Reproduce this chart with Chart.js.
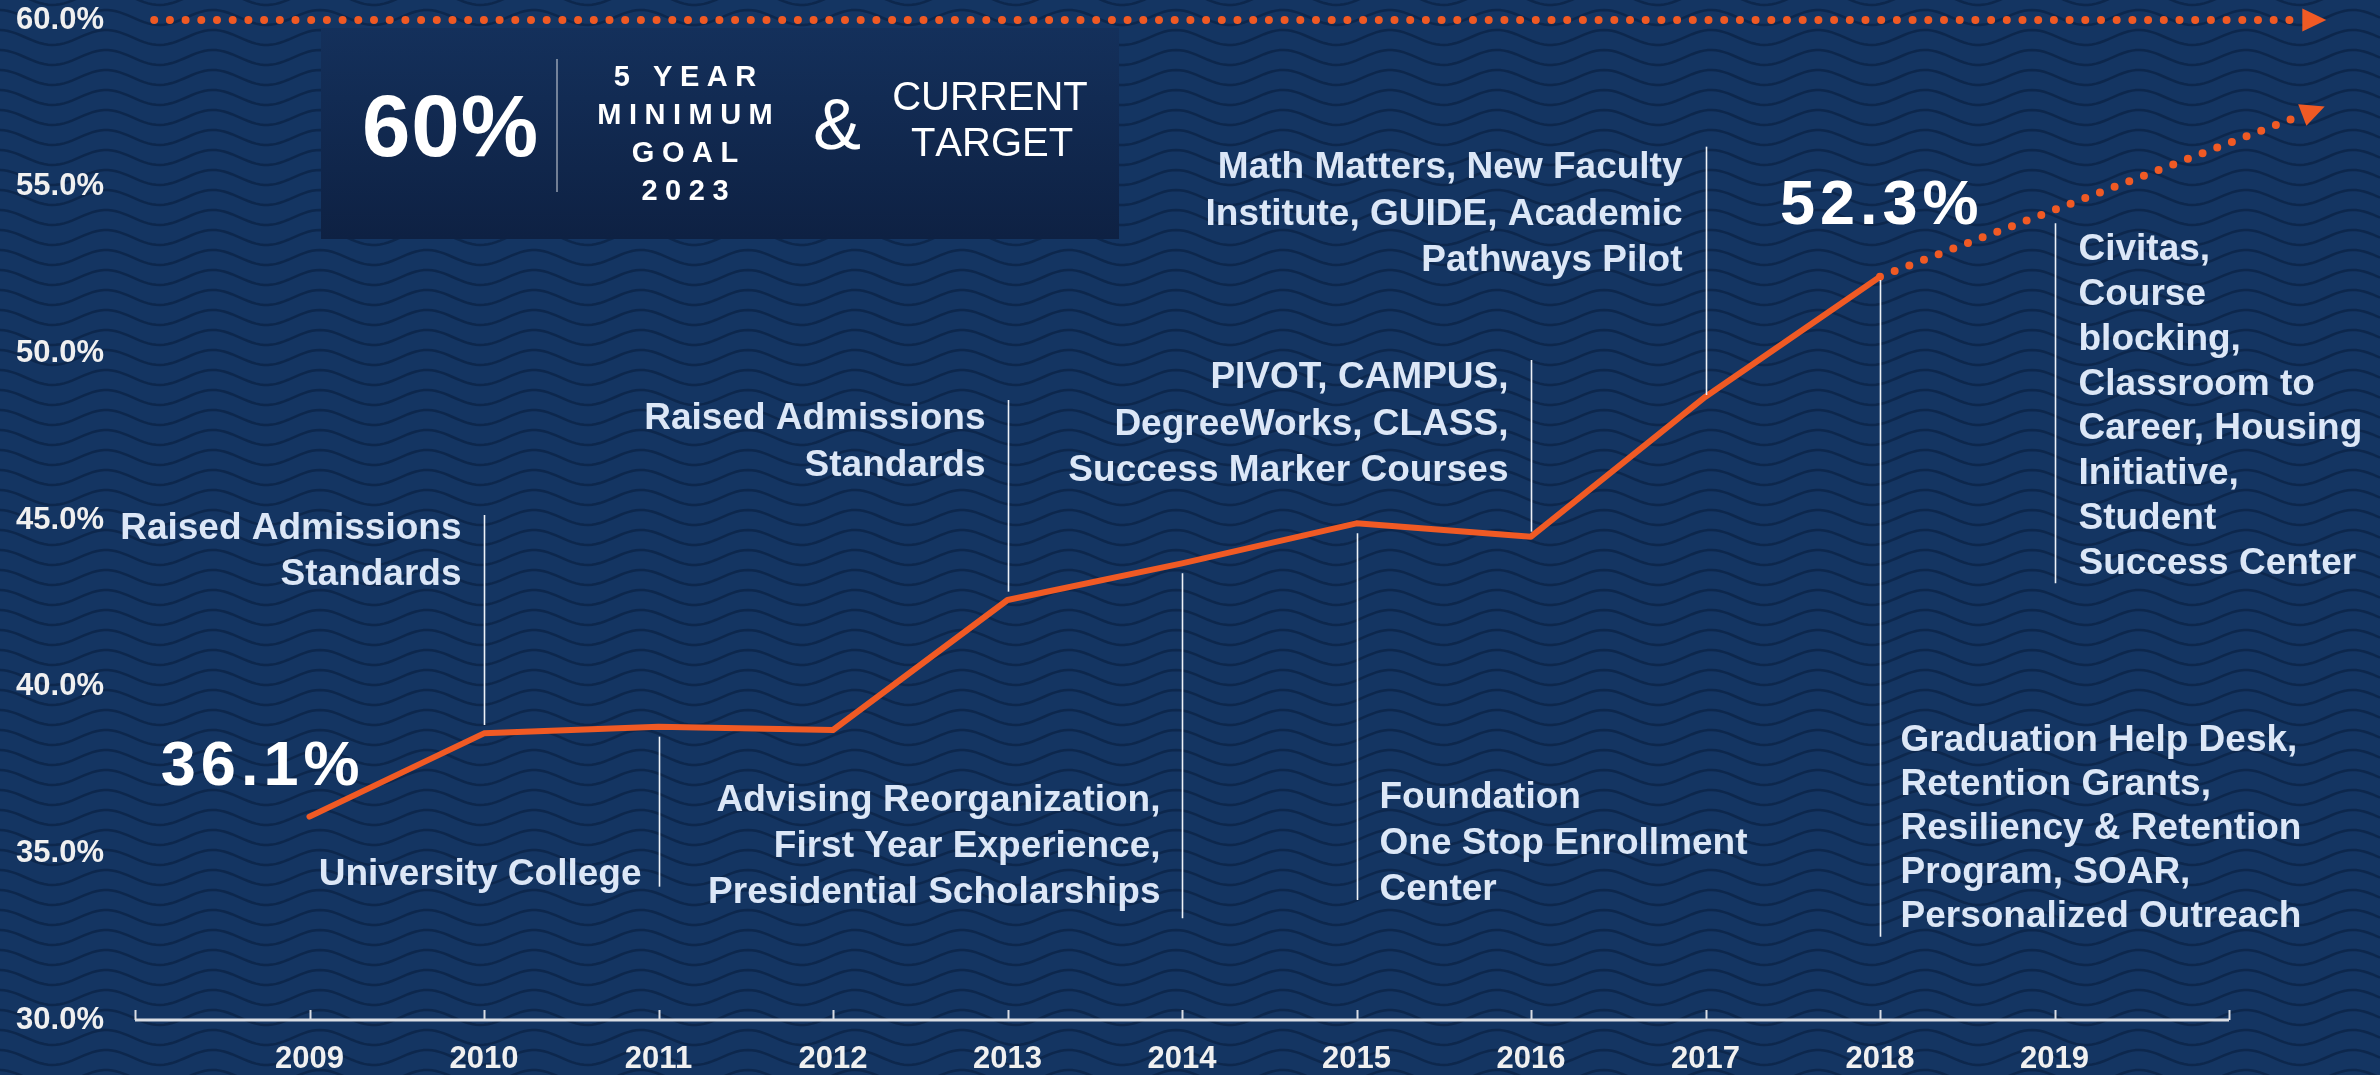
<!DOCTYPE html>
<html>
<head>
<meta charset="utf-8">
<title>Graduation rate</title>
<script src="https://cdn.jsdelivr.net/npm/chart.js@4"></script>
<style>
  html, body { margin: 0; padding: 0; background: #143562; }
  canvas { display: block; }
</style>
</head>
<body>
<canvas id="rate-chart" width="2380" height="1075"></canvas>
<script>
const years = [2009, 2010, 2011, 2012, 2013, 2014, 2015, 2016, 2017, 2018];
const rates = [36.1, 38.6, 38.8, 38.7, 42.6, 43.7, 44.9, 44.5, 48.7, 52.3];
const projectionYears = [2018, 2020.42];
const projectionRates = [52.3, 57.15];
const goalYears = [2008.11, 2020.42];
const goalRates = [60, 60];
const yearTicks = [2009, 2010, 2011, 2012, 2013, 2014, 2015, 2016, 2017, 2018, 2019];
const rateTicks = [30, 35, 40, 45, 50, 55, 60];

const noteYears = [2010, 2011, 2013, 2014, 2015, 2016, 2017, 2018, 2019];
const noteTops = [45.15, 38.5, 48.6, 43.4, 44.6, 49.8, 56.2, 52.2, 53.9];
const noteBottoms = [38.85, 34.0, 42.85, 33.05, 33.6, 44.65, 48.75, 32.5, 43.1];
const noteTexts = [
    ['Raised Admissions', 'Standards'],
    ['University College'],
    ['Raised Admissions', 'Standards'],
    ['Advising Reorganization,', 'First Year Experience,', 'Presidential Scholarships'],
    ['Foundation', 'One Stop Enrollment', 'Center'],
    ['PIVOT, CAMPUS,', 'DegreeWorks, CLASS,', 'Success Marker Courses'],
    ['Math Matters, New Faculty', 'Institute, GUIDE, Academic', 'Pathways Pilot'],
    ['Graduation Help Desk,', 'Retention Grants,', 'Resiliency & Retention', 'Program, SOAR,', 'Personalized Outreach'],
    ['Civitas,', 'Course', 'blocking,', 'Classroom to', 'Career, Housing', 'Initiative,', 'Student', 'Success Center']
];

const FONT = "'Liberation Sans', Arial, sans-serif";
const ORANGE = '#f05a24';

// where each note's text sits: side of its line, first line height on the rate axis, leading
const noteLayout = [
    { side: 'left', at: 44.82, gap: 23, leading: 46 },
    { side: 'left', at: 34.45, gap: 18, leading: 46 },
    { side: 'left', at: 48.12, gap: 23, leading: 46.5 },
    { side: 'left', at: 36.66, gap: 22, leading: 46 },
    { side: 'right', at: 36.75, gap: 22, leading: 46 },
    { side: 'left', at: 49.35, gap: 23, leading: 46.5 },
    { side: 'left', at: 55.65, gap: 24, leading: 46.5 },
    { side: 'right', at: 38.46, gap: 20, leading: 44 },
    { side: 'right', at: 53.19, gap: 23, leading: 44.8 }
];


function spacedText(ctx, str, x, y, spacing, align) {
    const chars = [...str];
    const widths = chars.map(c => ctx.measureText(c).width);
    const total = widths.reduce((a, b) => a + b, 0) + spacing * (chars.length - 1);
    let cx = align === 'center' ? x - total / 2 : (align === 'right' ? x - total : x);
    ctx.textAlign = 'left';
    chars.forEach((c, i) => {
        ctx.fillText(c, cx, y);
        cx += widths[i] + spacing;
    });
}


function drawBackground(ctx, w, h) {
    ctx.fillStyle = '#143562';
    ctx.fillRect(0, 0, w, h);
    ctx.strokeStyle = 'rgba(8, 28, 58, 0.55)';
    ctx.lineWidth = 2.5;
    for (let row = -2.5; row < h + 20; row += 20) {
        ctx.beginPath();
        for (let x = 0; x <= w; x += 4) {
            const y = row - 7.5 * Math.cos(2 * Math.PI * (x - 1497) / 107);
            if (x === 0) ctx.moveTo(x, y); else ctx.lineTo(x, y);
        }
        ctx.stroke();
    }
}


function drawGoalBox(ctx) {
    const g = ctx.createLinearGradient(0, 28, 0, 239);
    g.addColorStop(0, '#14305b');
    g.addColorStop(1, '#0e2143');
    ctx.fillStyle = g;
    ctx.fillRect(321, 28, 798, 211);

    ctx.fillStyle = '#ffffff';
    ctx.textBaseline = 'alphabetic';
    ctx.font = `bold 87px ${FONT}`;
    spacedText(ctx, '60%', 450, 156, 1, 'center');

    ctx.strokeStyle = 'rgba(255,255,255,0.55)';
    ctx.lineWidth = 1.5;
    ctx.beginPath();
    ctx.moveTo(557, 59);
    ctx.lineTo(557, 192);
    ctx.stroke();

    ctx.font = `bold 29px ${FONT}`;
    ['5 YEAR', 'MINIMUM', 'GOAL', '2023'].forEach((t, i) => {
        spacedText(ctx, t, 685, 86 + i * 38, 7.5, 'center');
    });

    ctx.font = `72px ${FONT}`;
    spacedText(ctx, '&', 837, 149, 0, 'center');

    ctx.font = `40px ${FONT}`;
    spacedText(ctx, 'CURRENT', 990, 110, 0, 'center');
    spacedText(ctx, 'TARGET', 992, 156, 0, 'center');
}


const decorations = {
    id: 'decorations',
    beforeDraw(chart) {
        const ctx = chart.ctx;
        ctx.save();
        drawBackground(ctx, chart.width, chart.height);
        drawGoalBox(ctx);
        ctx.restore();
    },
    afterDatasetsDraw(chart) {
        const ctx = chart.ctx;
        const xs = chart.scales.x;
        const ys = chart.scales.y;
        const area = chart.chartArea;
        ctx.save();

        // x axis line with upward ticks
        ctx.strokeStyle = '#d9dde4';
        ctx.lineWidth = 3;
        ctx.beginPath();
        ctx.moveTo(xs.getPixelForValue(xs.min), area.bottom);
        ctx.lineTo(xs.getPixelForValue(xs.max), area.bottom);
        ctx.stroke();
        ctx.lineWidth = 2;
        for (let v = xs.min; v <= xs.max; v++) {
            const px = Math.round(xs.getPixelForValue(v)) + 0.5;
            ctx.beginPath();
            ctx.moveTo(px, area.bottom);
            ctx.lineTo(px, area.bottom - 10);
            ctx.stroke();
        }

        // arrow heads on the dotted lines
        ctx.fillStyle = ORANGE;
        [1, 2].forEach(i => {
            const pts = chart.getDatasetMeta(i).data;
            const a = pts[pts.length - 2];
            const b = pts[pts.length - 1];
            const len = Math.hypot(b.x - a.x, b.y - a.y);
            const ux = (b.x - a.x) / len, uy = (b.y - a.y) / len;
            ctx.beginPath();
            ctx.moveTo(b.x + ux * 24, b.y + uy * 24);
            ctx.lineTo(b.x - uy * 11.5, b.y + ux * 11.5);
            ctx.lineTo(b.x + uy * 11.5, b.y - ux * 11.5);
            ctx.closePath();
            ctx.fill();
        });

        // note lines and texts
        ctx.font = `bold 37px ${FONT}`;
        ctx.textBaseline = 'alphabetic';
        noteYears.forEach((yr, i) => {
            const px = Math.round(xs.getPixelForValue(yr)) + 0.5;
            ctx.strokeStyle = '#eef2f8';
            ctx.lineWidth = 1.6;
            ctx.beginPath();
            ctx.moveTo(px, ys.getPixelForValue(noteTops[i]));
            ctx.lineTo(px, ys.getPixelForValue(noteBottoms[i]));
            ctx.stroke();

            const lay = noteLayout[i];
            const y0 = ys.getPixelForValue(lay.at) + 13.2;
            ctx.fillStyle = '#dce7f7';
            ctx.textAlign = lay.side === 'left' ? 'right' : 'left';
            const tx = lay.side === 'left' ? px - lay.gap : px + lay.gap;
            noteTexts[i].forEach((line, j) => {
                ctx.fillText(line, tx, y0 + j * lay.leading);
            });
        });

        // start and latest rates
        ctx.fillStyle = '#ffffff';
        ctx.font = `bold 63px ${FONT}`;
        const first = rates[0], last = rates[rates.length - 1];
        spacedText(ctx, first.toFixed(1) + '%',
            xs.getPixelForValue(years[0]) - 148.7, ys.getPixelForValue(37.74) + 22.6, 5, 'left');
        spacedText(ctx, last.toFixed(1) + '%',
            xs.getPixelForValue(years[years.length - 1]) - 100, ys.getPixelForValue(54.57) + 22.6, 5, 'left');

        ctx.restore();
    }
};


function toPoints(xArr, yArr) {
    return xArr.map((x, i) => ({ x: x, y: yArr[i] }));
}


function initChart() {
    const ctx = document.getElementById('rate-chart').getContext('2d');
    Chart.defaults.font.family = FONT;
    return new Chart(ctx, {
        type: 'line',
        data: {
            datasets: [{
                label: 'Graduation rate',
                data: toPoints(years, rates),
                borderColor: ORANGE,
                borderWidth: 6,
                borderCapStyle: 'round',
                borderJoinStyle: 'round',
                pointRadius: 0,
                tension: 0,
                clip: false
            }, {
                label: 'Projection',
                data: toPoints(projectionYears, projectionRates),
                borderColor: ORANGE,
                borderWidth: 8,
                borderDash: [0, 15.7],
                borderCapStyle: 'round',
                pointRadius: 0,
                clip: false
            }, {
                label: 'Goal',
                data: toPoints(goalYears, goalRates),
                borderColor: ORANGE,
                borderWidth: 8,
                borderDash: [0, 15.7],
                borderCapStyle: 'round',
                pointRadius: 0,
                clip: false
            }]
        },
        options: {
            responsive: false,
            animation: false,
            devicePixelRatio: 1,
            layout: {
                padding: { top: 20, right: 151, left: 0, bottom: 0 }
            },
            scales: {
                x: {
                    type: 'linear',
                    min: 2008,
                    max: 2020,
                    afterBuildTicks: s => { s.ticks = yearTicks.map(v => ({ value: v })); },
                    afterFit: s => { s.height = 55; s.paddingLeft = 0; s.paddingRight = 0; },
                    grid: { display: false, drawTicks: false },
                    border: { display: false },
                    ticks: {
                        autoSkip: false,
                        maxRotation: 0,
                        padding: 21,
                        color: '#f0f0f0',
                        font: { size: 31, weight: 'bold' },
                        callback: v => String(v)
                    }
                },
                y: {
                    min: 30,
                    max: 60,
                    afterBuildTicks: s => { s.ticks = rateTicks.map(v => ({ value: v })); },
                    afterFit: s => { s.width = 135; s.paddingTop = 0; s.paddingBottom = 0; },
                    grid: { display: false, drawTicks: false },
                    border: { display: false },
                    ticks: {
                        padding: 31,
                        color: '#f0f0f0',
                        font: { size: 31, weight: 'bold' },
                        callback: v => v.toFixed(1) + '%'
                    }
                }
            },
            plugins: {
                legend: { display: false },
                tooltip: { enabled: false }
            }
        },
        plugins: [decorations]
    });
}


document.addEventListener('DOMContentLoaded', function() {
    initChart();
});
</script>
</body>
</html>
